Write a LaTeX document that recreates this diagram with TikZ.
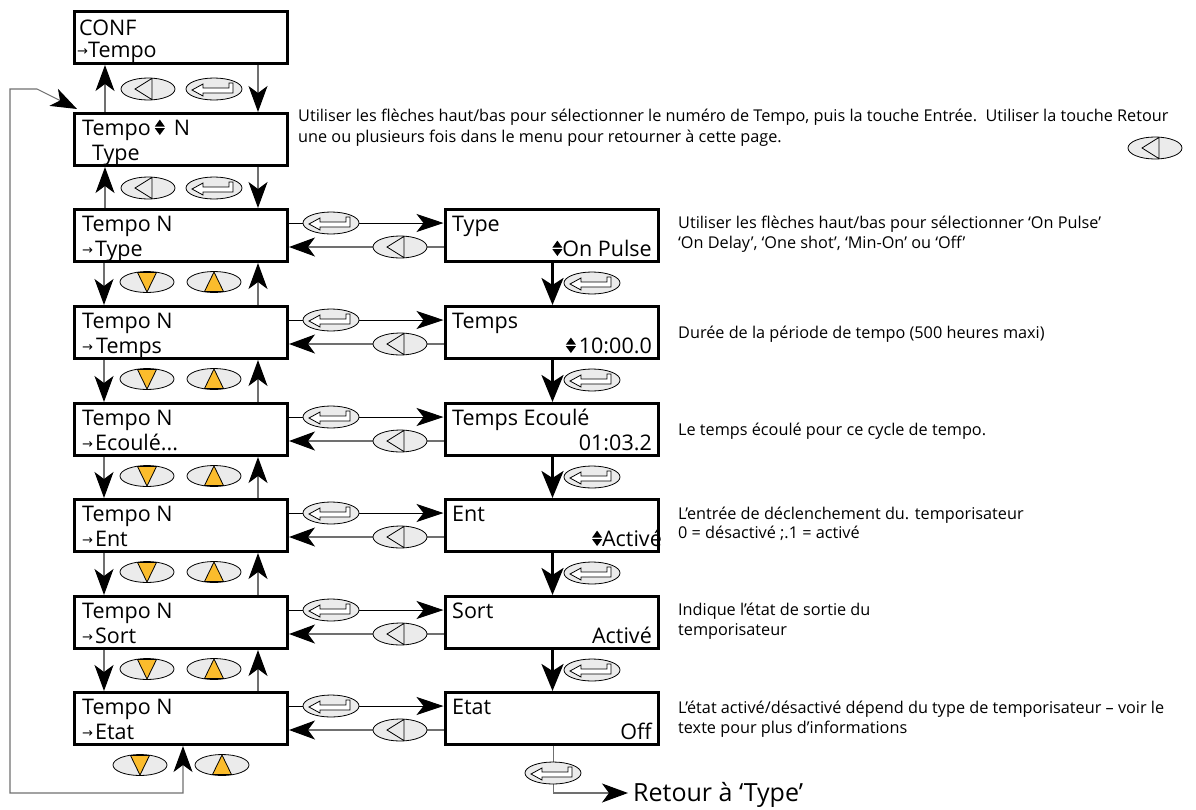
\documentclass[tikz,border=0pt]{standalone}
\usepackage{fontspec}
\setmainfont{Open Sans}
\newfontfamily\arrfont{DejaVu Sans}
\usetikzlibrary{arrows.meta,calc}
\definecolor{keygray}{HTML}{EBEBEB}
\definecolor{keygold}{HTML}{FBBC2C}
\definecolor{linegray}{HTML}{707070}
\newcommand{\udsym}{\tikz[x=1pt,y=1pt,baseline=0pt]{\fill[black] (0,6.8) -- (10,6.8) -- (5,0) -- cycle; \fill[black] (0,8.4) -- (10,8.4) -- (5,15.4) -- cycle;}}
\newcommand{\rarr}{\raisebox{1.2pt}{\arrfont\fontsize{13}{13}\selectfont →}}
\begin{document}
\begin{tikzpicture}[x=1pt,y=-1pt,
  bighead/.tip={Stealth[length=26pt,width=19pt,inset=7pt,color=black]},
  screen/.style={draw, line width=3pt, minimum width=213pt, minimum height=52pt, inner sep=0pt, outer sep=1.5pt},
  boxtxt/.style={font=\fontsize{21.5}{22}\selectfont, inner sep=0pt, anchor=base west},
  valtxt/.style={font=\fontsize{21.5}{22}\selectfont, inner sep=0pt, anchor=base east},
  desc/.style={font=\fontsize{16.25}{17}\selectfont, inner sep=0pt, anchor=base west},
  thinarr/.style={draw=linegray, line width=1.1pt, -bighead},
  fwdarr/.style={draw=black, line width=1pt, -{Stealth[length=27pt,width=18pt,inset=7pt,color=black]}},
  thickarr/.style={draw=black, line width=3pt, -{Stealth[length=27pt,width=22pt,inset=7pt]}},
  keyshape/.style={draw=black, line width=0.8pt, fill=keygray},
  enterkey/.pic={
    \draw[keyshape] (0,0) ellipse [x radius=28, y radius=11];
    \draw[fill=white, line width=0.8pt] (-22,1) -- (-11,-5) -- (-11,-1) -- (15,-1) -- (15,-6) -- (19,-6) -- (19,4) -- (-11,4) -- (-11,7) -- cycle;
  },
  backkey/.pic={
    \draw[keyshape] (0,0) ellipse [x radius=27, y radius=11];
    \draw[line width=0.8pt] (-13,0) -- (4,-10.6) -- (4,10.6) -- cycle;
  },
  downkey/.pic={
    \draw[keyshape] (0,0) ellipse [x radius=27, y radius=10.5];
    \draw[fill=keygold, line width=0.8pt] (-9.5,-9.5) -- (9.5,-9.5) -- (0,10) -- cycle;
  },
  upkey/.pic={
    \draw[keyshape] (0,0) ellipse [x radius=27, y radius=10.5];
    \draw[fill=keygold, line width=0.8pt] (-9.5,9.5) -- (9.5,9.5) -- (0,-10) -- cycle;
  }
]
\useasboundingbox (0,0) rectangle (1196,809);

% left column screens
\node[screen] (L1) at (181,37.5) {};
\node[screen] (L2) at (181,139.5) {};
\node[screen] (L3) at (181,235.5) {};
\node[screen] (L4) at (181,332.5) {};
\node[screen] (L5) at (181,429.5) {};
\node[screen] (L6) at (181,525.5) {};
\node[screen] (L7) at (181,622.5) {};
\node[screen] (L8) at (181,718.5) {};
% right column screens
\node[screen] (R3) at (551.5,235.5) {};
\node[screen] (R4) at (551.5,332.5) {};
\node[screen] (R5) at (551.5,429.5) {};
\node[screen] (R6) at (551.5,525.5) {};
\node[screen] (R7) at (551.5,622.5) {};
\node[screen] (R8) at (551.5,718.5) {};

% texts in left screens
\node[boxtxt] (t1a) at (79,35) {CONF};
\node[boxtxt] (t1b) at (77,57) {\rarr Tempo};
\node[boxtxt] (t2a) at (82,135) {Tempo\hspace{4pt}\udsym\hspace{9pt}N};
\node[boxtxt] (t2b) at (92,160) {Type};
\node[boxtxt] (t3a) at (82,231) {Tempo N};
\node[boxtxt] (t3b) at (82,256) {\rarr\hspace{2pt}Type};
\node[boxtxt] (t4a) at (82,328) {Tempo N};
\node[boxtxt] (t4b) at (82,353) {\rarr\hspace{3pt}Temps};
\node[boxtxt] (t5a) at (82,425) {Tempo N};
\node[boxtxt] (t5b) at (82,450) {\rarr\hspace{2pt}Ecoulé...};
\node[boxtxt] (t6a) at (82,521) {Tempo N};
\node[boxtxt] (t6b) at (82,546) {\rarr\hspace{2pt}Ent};
\node[boxtxt] (t7a) at (82,618) {Tempo N};
\node[boxtxt] (t7b) at (82,643) {\rarr\hspace{2pt}Sort};
\node[boxtxt] (t8a) at (82,714) {Tempo N};
\node[boxtxt] (t8b) at (82,739) {\rarr\hspace{2pt}Etat};

% texts in right screens
\node[boxtxt] (r3a) at (452,231) {Type};
\node[valtxt] (r3b) at (652,256) {\udsym On Pulse};
\node[boxtxt] (r4a) at (452,328) {Temps};
\node[valtxt] (r4b) at (652,353) {\udsym\hspace{3pt}10:00.0};
\node[boxtxt] (r5a) at (452,425) {Temps Ecoulé};
\node[valtxt] (r5b) at (652,450) {01:03.2};
\node[boxtxt] (r6a) at (452,521) {Ent};
\node[valtxt] (r6b) at (662,546) {\udsym Activé};
\node[boxtxt] (r7a) at (452,618) {Sort};
\node[valtxt] (r7b) at (652,643) {Activé};
\node[boxtxt] (r8a) at (452,714) {Etat};
\node[valtxt] (r8b) at (652,739) {Off};

% left column vertical arrows, top two gaps
\draw[thinarr] ($(L2.north west)+(32,0)$) -- ($(L1.south west)+(32,0)$);
\draw[thinarr] ($(L1.south east)+(-31,0)$) -- ($(L2.north east)+(-31,0)$);
\draw[thinarr] ($(L3.north west)+(32,0)$) -- ($(L2.south west)+(32,0)$);
\draw[thinarr] ($(L2.south east)+(-31,0)$) -- ($(L3.north east)+(-31,0)$);
\pic at (148,89) {backkey};
\pic at (214,89) {enterkey};
\pic at (148,188) {backkey};
\pic at (214,188) {enterkey};

% left column vertical arrows, scroll gaps
\foreach \a/\b/\y in {3/4/282, 4/5/379, 5/6/476, 6/7/572, 7/8/669} {
  \draw[thinarr] ($(L\a.south west)+(31,0)$) -- ($(L\b.north west)+(31,0)$);
  \draw[thinarr] ($(L\b.north east)+(-31,0)$) -- ($(L\a.south east)+(-31,0)$);
  \pic at (147,\y) {downkey};
  \pic at (214,\y) {upkey};
}

% row connections between columns
\foreach \r/\t in {3/208, 4/305, 5/402, 6/498, 7/595, 8/691} {
  \draw[fwdarr] ($(L\r.north east)+(0,15)$) -- ($(R\r.north west)+(0,15)$);
  \draw[thinarr] ($(R\r.north west)+(0,39)$) -- ($(L\r.north east)+(0,39)$);
  \pic at (331,\t+15) {enterkey};
  \pic at (400,\t+39) {backkey};
}

% right column vertical arrows
\foreach \a/\b/\y in {3/4/283, 4/5/380, 5/6/477, 6/7/573, 7/8/670} {
  \draw[thickarr] ($(R\a.south west)+(109,0)$) -- ($(R\b.north west)+(109,0)$);
  \pic at (592,\y) {enterkey};
}

% return from Etat
\coordinate (retpt) at (628,793);
\node[anchor=base west, inner sep=0pt, font=\fontsize{25}{26}\selectfont] (ret) at (633,801) {Retour à ‘Type’};
\draw[thinarr] ($(R8.south west)+(110,0)$) |- (retpt);
\pic at (553,773) {enterkey};

% loop from last screen back to Tempo N
\coordinate (lp1) at (10,793);
\coordinate (lp2) at (10,89);
\coordinate (lp3) at (37,89);
\draw[draw=linegray, line width=1.1pt, bighead-bighead]
  ($(L8.south west)+(110,0)$) |- (lp1) -- (lp2) -- (lp3) -- ($(L2.north west)+(4,-3)$);
\pic at (140,765) {downkey};
\pic at (222,765) {upkey};

% descriptions
\node[desc] (d2a) at (298,121) {Utiliser les flèches haut/bas pour sélectionner le numéro de Tempo, puis la touche Entrée.\ \ Utiliser la touche Retour};
\node[desc] (d2b) at (298,142) {une ou plusieurs fois dans le menu pour retourner à cette page.};
\pic at (1155,148) {backkey};
\node[desc] (d3a) at (678,228) {Utiliser les flèches haut/bas pour sélectionner ‘On Pulse’};
\node[desc] (d3b) at (678,248) {‘On Delay’, ‘One shot’, ‘Min-On’ ou ‘Off’};
\node[desc] (d4) at (678,338) {Durée de la période de tempo (500 heures maxi)};
\node[desc] (d5) at (678,435) {Le temps écoulé pour ce cycle de tempo.};
\node[desc] (d6a) at (678,519) {L'entrée de déclenchement du. temporisateur};
\node[desc] (d6b) at (678,538) {0 = désactivé ;.1 = activé};
\node[desc] (d7a) at (678,615) {Indique l’état de sortie du};
\node[desc] (d7b) at (678,635) {temporisateur};
\node[desc] (d8a) at (678,713) {L’état activé/désactivé dépend du type de temporisateur – voir le};
\node[desc] (d8b) at (678,733) {texte pour plus d'informations};
\end{tikzpicture}
\end{document}
